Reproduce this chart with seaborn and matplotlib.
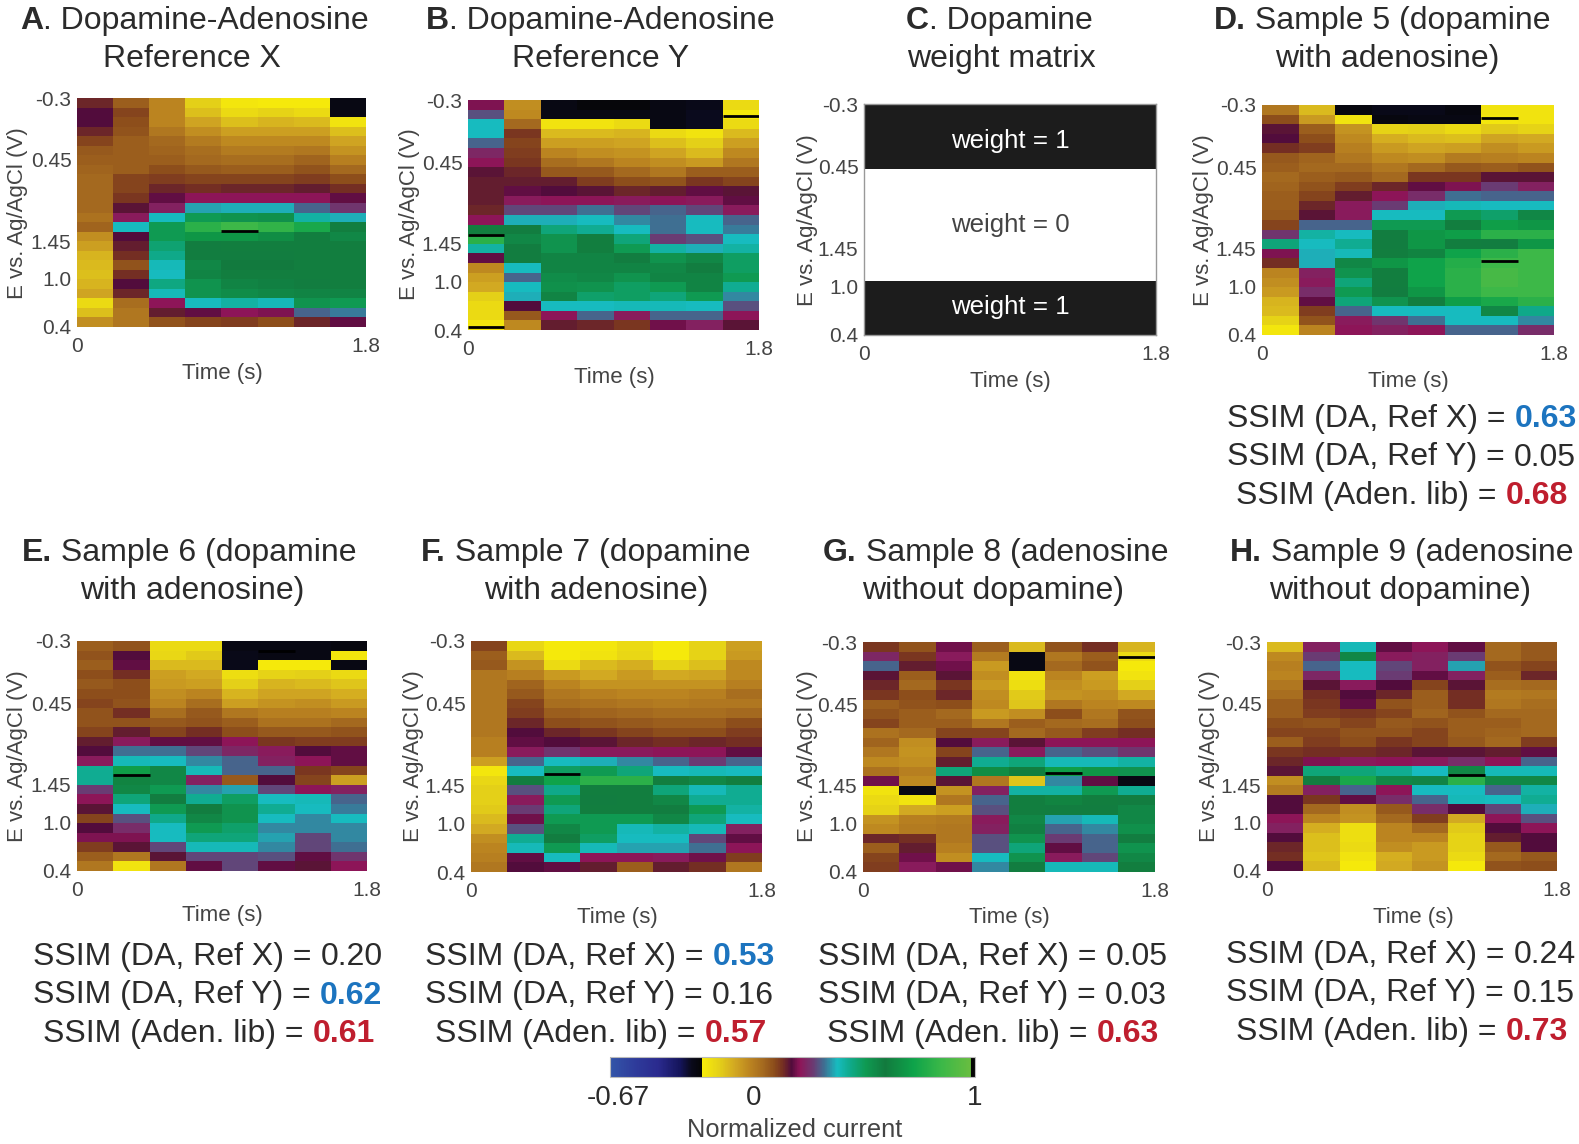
# ==========================================
# VOLTAMMOGRAM HEATMAPS WITH SSIM SCORES
# ==========================================

import numpy as np
import matplotlib
matplotlib.use("Agg")
import matplotlib.pyplot as plt
import seaborn as sns
from matplotlib.colors import LinearSegmentedColormap, ListedColormap
from matplotlib.transforms import ScaledTranslation

sns.set_theme(style="white")
plt.rcParams["font.family"] = ["Liberation Sans", "DejaVu Sans"]

# ------------------------------------------
# Data: one list per time column, 24 potential bins each
# ------------------------------------------
panel_a = [
    [.13,.16,.16,.13,.09,.06, .05,.04,.03,.03,.03,.03, .01,.04,-.05,-.08,-.12,-.13, -.14,-.12,-.09,-.2,-.14,-.05],
    [.05,.09,.08,.07,.05,.05, .05,.05,.09,.09,.11,.15, .21,.37,.16,.14,.12,.07, .12,.16,.13,.02,.0,.0],
    [-.03,-.03,-.03,.0,.03,.04, .05,.08,.1,.13,.17,.22, .37,.5,.5,.46,.43,.38, .37,.44,.38,.2,.14,.07],
    [-.17,-.14,-.09,-.05,-.01,.02, .03,.06,.09,.12,.2,.35, .5,.8,.68,.58,.58,.55, .56,.52,.52,.37,.17,.09],
    [-.23,-.2,-.14,-.08,-.04,-.01, .02,.05,.09,.13,.2,.36, .52,.85,.68,.6,.58,.59, .6,.56,.54,.4,.2,.1],
    [-.24,-.18,-.12,-.08,-.04,-.01, .02,.05,.09,.13,.2,.36, .53,.82,.65,.6,.58,.59, .6,.57,.55,.38,.19,.08],
    [-.24,-.2,-.13,-.08,-.04,.0, .04,.07,.1,.14,.2,.3, .4,.75,.6,.6,.6,.6, .6,.58,.56,.52,.3,.13],
    [-.28,-.28,-.22,-.14,-.09,-.06, -.02,.03,.08,.12,.17,.25, .36,.6,.55,.6,.6,.6, .6,.6,.56,.5,.32,.17],
]
panel_b = [
    [.19,.28,.37,.37,.3,.23, .2,.15,.14,.14,.14,.13, .2,.6,.8,.4,.17,-.04, -.08,-.1,-.17,-.2,-.2,-.23],
    [-.05,-.04,.03,.11,.09,.1, .11,.13,.14,.17,.21,.27, .36,.58,.55,.58,.58,.37, .3,.37,.36,.16,.06,-.04],
    [-.28,-.28,-.22,-.13,-.08,-.03, .02,.06,.14,.16,.2,.27, .36,.45,.52,.52,.56,.56, .54,.53,.56,.37,.2,.14],
    [-.26,-.28,-.22,-.13,-.08,-.05, .0,.06,.1,.15,.2,.31, .37,.42,.6,.6,.56,.56, .55,.52,.47,.37,.3,.13],
    [-.26,-.28,-.2,-.12,-.09,-.06, -.03,.03,.08,.13,.21,.27, .33,.37,.45,.5,.58,.56, .52,.48,.48,.38,.21,.11],
    [-.28,-.28,-.28,-.2,-.14,-.09, -.05,.0,.07,.14,.2,.3, .31,.31,.26,.4,.52,.55, .56,.5,.45,.38,.3,.18],
    [-.29,-.3,-.3,-.22,-.17,-.13, -.07,.05,.11,.17,.21,.27, .37,.37,.28,.36,.55,.58, .56,.56,.5,.37,.3,.22],
    [-.2,-.24,-.2,-.13,-.08,-.04, .0,.05,.09,.15,.17,.21, .3,.32,.37,.4,.48,.48, .5,.42,.33,.28,.2,.15],
]
panel_d = [
    [.0,.08,.15,.16,.12,.06, .05,.03,.04,.05,.05,.06, .09,.25,.45,.19,.12,-.03, -.05,-.07,-.12,-.13,-.18,-.23],
    [-.13,-.07,.05,.08,.1,.04, .03,.05,.07,.09,.13,.15, .3,.4,.37,.36,.36,.22, .21,.24,.17,.1,.07,-.03],
    [-.27,-.22,-.06,-.04,-.02,.0, .03,.06,.1,.14,.21,.21, .3,.37,.42,.38,.55,.52, .45,.5,.45,.3,.21,.2],
    [-.29,-.27,-.18,-.11,-.07,-.04, .0,.03,.13,.2,.26,.37, .5,.58,.58,.6,.68,.6, .6,.58,.52,.37,.25,.22],
    [-.29,-.28,-.17,-.13,-.09,-.05, .03,.11,.17,.24,.36,.37, .5,.68,.68,.62,.72,.72, .72,.68,.6,.37,.31,.2],
    [-.27,-.28,-.2,-.14,-.08,-.01, .06,.11,.19,.31,.38,.5, .6,.7,.6,.72,.78,.8, .8,.8,.7,.37,.37,.3],
    [-.22,-.23,-.16,-.09,-.05,-.02, .05,.15,.26,.3,.37,.47, .7,.8,.58,.8,.85,.88, .88,.85,.75,.55,.37,.3],
    [-.22,-.22,-.18,-.1,-.07,-.03, .07,.15,.22,.3,.37,.55, .68,.8,.68,.85,.85,.85, .85,.85,.8,.43,.33,.24],
]
panel_e = [
    [.05,.07,.05,.08,.06,.08, .09,.07,.07,.09,.14,.16, .21,.42,.42,.26,.2,.15, .09,.16,.19,.1,.05,.0],
    [.07,.16,.17,.12,.08,.08, .07,.12,.07,.14,.21,.31, .38,.7,.62,.55,.45,.37, .28,.24,.19,.15,.0,-.22],
    [-.2,-.19,-.13,-.08,-.07,-.05, -.03,.02,.06,.09,.17,.31, .37,.55,.55,.5,.58,.5, .43,.37,.37,.27,.15,.0],
    [-.2,-.16,-.13,-.1,-.08,-.03, .02,.06,.07,.12,.17,.27, .33,.38,.22,.33,.42,.58, .55,.5,.45,.38,.27,.17],
    [-.28,-.29,-.29,-.21,-.17,-.12, -.08,.0,.05,.08,.2,.23, .3,.3,.06,.35,.48,.52, .52,.47,.45,.38,.27,.27],
    [-.28,-.28,-.24,-.18,-.12,-.09, -.06,-.02,.01,.06,.11,.21, .22,.3,.16,.27,.37,.42, .37,.33,.35,.33,.28,.17],
    [-.28,-.28,-.24,-.17,-.13,-.09, -.05,-.02,.01,.06,.1,.16, .2,.11,.09,.2,.38,.37, .33,.33,.27,.27,.17,.15],
    [-.27,-.23,-.28,-.2,-.15,-.11, -.07,-.03,.03,.07,.1,.17, .17,.09,-.08,.22,.3,.32, .37,.33,.33,.31,.25,.2],
]
panel_f = [
    [.09,.05,.06,.0,.0,.0, .0,.0,.0,.0,-.02,-.02, -.08,-.23,-.19,-.17,-.17,-.16, -.13,-.1,-.05,-.03,-.02,.0],
    [-.19,-.13,-.06,-.02,.04,.06, .09,.1,.13,.16,.17,.21, .3,.37,.58,.28,.21,.26, .18,.28,.42,.38,.17,.16],
    [-.24,-.24,-.2,-.07,-.03,.0, .02,.05,.08,.13,.16,.25, .37,.48,.72,.43,.5,.45, .5,.55,.58,.5,.37,.17],
    [-.23,-.22,-.13,-.1,-.06,-.02, .01,.04,.07,.11,.15,.21, .36,.5,.8,.6,.58,.6, .5,.5,.48,.38,.2,.14],
    [-.2,-.19,-.11,-.07,-.06,-.03, .0,.03,.06,.09,.13,.21, .33,.45,.8,.6,.6,.6, .5,.38,.37,.35,.2,.05],
    [-.24,-.24,-.18,-.1,-.06,-.03, -.01,.02,.05,.08,.12,.2, .3,.37,.6,.45,.55,.58, .55,.4,.37,.35,.21,.14],
    [-.18,-.18,-.14,-.09,-.06,-.02, .0,.02,.05,.08,.13,.2, .26,.38,.55,.38,.42,.5, .45,.38,.27,.31,.18,.12],
    [-.08,-.07,-.04,-.04,-.02,.02, .0,.03,.08,.1,.12,.17, .3,.37,.6,.42,.42,.4, .37,.22,.17,.2,.1,.0],
]
panel_g = [
    [.11,.23,.3,.15,.13,.11, .05,.07,.09,.01,.04,.0, -.04,.01,.18,-.22,-.2,-.18, -.06,-.04,.13,.05,.09,.1],
    [.07,.11,.14,.05,.03,.08, .07,.05,.05,.03,-.05,-.06, -.05,-.02,-.04,-.28,-.22,-.1, -.02,-.01,.12,.14,.18,.21],
    [.18,.21,.18,.15,.11,.13, .08,.03,.05,.09,.16,.09, .14,.45,.15,-.06,.0,-.08, -.01,.0,.0,-.02,-.05,.18],
    [.05,-.01,-.07,-.05,-.07,-.05, -.04,-.07,.0,.09,.21,.3, .42,.65,.0,.22,.3,.28, .21,.22,.28,.28,.37,.33],
    [-.13,-.28,-.28,-.22,-.21,-.16, -.15,-.05,.05,.03,.15,.21, .45,.6,-.15,.4,.6,.6, .55,.57,.52,.45,.52,.58],
    [.07,.0,.03,-.03,-.05,-.06, .0,.08,.03,.06,.2,.3, .38,.7,.33,.4,.62,.58, .35,.3,.26,.17,.21,.38],
    [.12,.05,.07,-.08,-.07,-.05, -.03,.0,.02,.1,.2,.28, .38,.68,.17,.5,.6,.58, .38,.33,.3,.3,.27,.38],
    [-.12,-.2,-.24,-.22,-.17,-.1, -.04,.07,.08,.12,.2,.25, .4,.52,-.28,.42,.58,.55, .55,.53,.58,.52,.55,.6],
]
panel_h = [
    [-.13,-.04,-.02,-.03,.0,.02, .05,.05,.08,.09,.05,.11, .13,.15,-.05,-.01,.16,.16, .2,.22,.16,.13,.12,.16],
    [.22,.26,.3,.23,.15,.12, .11,.1,.07,.09,.1,.12, .19,.45,.58,.22,.11,.03, -.03,-.11,-.14,-.14,-.15,-.13],
    [.38,.55,.37,.37,.21,.16, .17,.11,.09,.07,.08,.12, .21,.45,.75,.3,.17,-.05, -.06,-.21,-.21,-.2,-.22,-.24],
    [.17,.21,.27,.26,.16,.13, .07,.09,.06,.07,.11,.13, .2,.42,.55,.2,.24,.06, .03,-.03,-.03,-.05,-.11,-.1],
    [.2,.22,.22,.17,.09,.05, .05,.04,.07,.09,.09,.15, .21,.37,.56,.37,.3,.24, .1,.03,-.03,-.07,-.07,-.06],
    [.17,.26,.35,.22,.15,.12, .12,.07,.05,.05,.06,.15, .24,.55,.8,.37,.38,.16, -.1,-.16,-.18,-.18,-.2,-.24],
    [.03,.03,.07,.05,.02,-.01, .0,.03,.05,.04,.03,.14, .2,.38,.55,.3,.37,.27, .2,.16,.14,.06,.03,.07],
    [.06,.06,.09,.13,.03,.0, .02,.03,.03,.03,.1,.17, .3,.38,.55,.4,.42,.36, .28,.2,.16,.16,.06,.08],
]
weight_rows = [1] * 17 + [0] * 29 + [1] * 14
weight_labels = ["weight = 1", "weight = 0", "weight = 1"]

# thin off-scale streaks: (column, row position)
streaks_a = [(4, 13.9)]
streaks_b = [(0, 14.1), (0, 23.7), (7, 1.7)]
streaks_d = [(6, 1.4), (6, 16.3)]
streaks_e = [(1, 13.97), (5, 1.0)]
streaks_f = [(2, 13.8)]
streaks_g = [(7, 1.6), (5, 13.7)]
streaks_h = [(5, 13.9)]

titles = {
    "A": ["A", ". Dopamine-Adenosine", "Reference X"],
    "B": ["B", ". Dopamine-Adenosine", "Reference Y"],
    "C": ["C", ". Dopamine", "weight matrix"],
    "D": ["D.", " Sample 5 (dopamine", "with adenosine)"],
    "E": ["E.", " Sample 6 (dopamine", "with adenosine)"],
    "F": ["F.", " Sample 7 (dopamine", "with adenosine)"],
    "G": ["G.", " Sample 8 (adenosine", "without dopamine)"],
    "H": ["H.", " Sample 9 (adenosine", "without dopamine)"],
}
ssim_scores = {
    "D": ["0.63", "0.05", "0.68"],
    "E": ["0.20", "0.62", "0.61"],
    "F": ["0.53", "0.16", "0.57"],
    "G": ["0.05", "0.03", "0.63"],
    "H": ["0.24", "0.15", "0.73"],
}
# which of the two reference scores is highlighted
ssim_highlight = {"D": 0, "E": 1, "F": 0, "G": None, "H": None}
ssim_labels = ["SSIM (DA, Ref X) = ", "SSIM (DA, Ref Y) = ", "SSIM (Aden. lib) = "]

y_tick_labels = ["-0.3", "0.45", "1.45", "1.0", "0.4"]
y_tick_fracs = [0, .27, .625, .79, 1]

# ------------------------------------------
# Colormap
# ------------------------------------------
vmin, vmax = -0.67, 1.0
anchors = [
    (-.67, "#3355a8"), (-.55, "#2e3a9a"), (-.45, "#2a2a8e"), (-.35, "#14145a"),
    (-.3, "#0a0a1c"), (-.2495, "#050505"), (-.249, "#f7ec0a"), (-.17, "#e4d018"),
    (-.1, "#d2a822"), (-.03, "#bb8420"), (.03, "#a4691f"), (.08, "#8c4d1b"),
    (.12, "#752f22"), (.16, "#520c3c"), (.2, "#8e1558"), (.26, "#6b3a72"),
    (.31, "#3f6e92"), (.37, "#17bcc0"), (.43, "#0fa98a"), (.5, "#0f9a52"),
    (.59, "#127a3e"), (.72, "#0ea34a"), (.85, "#3cb848"), (.98, "#68bd40"),
    (.985, "#050505"), (1.0, "#050505"),
]
current_cmap = LinearSegmentedColormap.from_list(
    "current", [((v - vmin) / (vmax - vmin), c) for v, c in anchors], N=512
)

# ------------------------------------------
# Layout in pixels
# ------------------------------------------
W, H = 1579, 1144
fig = plt.figure(figsize=(W / 100, H / 100), dpi=100)
TEXT = "#2b2b2b"
GREY = "#444444"
BIG = 23


def place(left, top, right, bottom):
    return fig.add_axes([left / W, 1 - bottom / H, (right - left) / W, (bottom - top) / H])


def put(x, y, s, **kw):
    kw.setdefault("color", TEXT)
    kw.setdefault("va", "center")
    return fig.text(x / W, 1 - y / H, s, **kw)


# name, box, values, streaks, time label xy, y label xy
panels = [
    ("A", (77, 98, 366, 327), panel_a, streaks_a, (222, 374), (18, 213)),
    ("B", (468, 100, 759, 330), panel_b, streaks_b, (614, 377), (410, 214)),
    ("C", (864, 104, 1156, 335), None, [], (1010, 381), (807, 220)),
    ("D", (1262, 105, 1554, 335), panel_d, streaks_d, (1408, 382), (1204, 220)),
    ("E", (77, 641, 367, 871), panel_e, streaks_e, (222, 916), (18, 756)),
    ("F", (471, 641, 762, 872), panel_f, streaks_f, (617, 918), (414, 756)),
    ("G", (863, 642, 1155, 872), panel_g, streaks_g, (1009, 918), (807, 756)),
    ("H", (1267, 642, 1557, 871), panel_h, streaks_h, (1413, 917), (1210, 756)),
]
title_xy = {
    "A": (20, 21, 192), "B": (426, 21, 601), "C": (906, 21, 1001), "D": (1214, 21, 1387),
    "E": (22, 553, 192), "F": (421, 553, 596), "G": (823, 553, 993), "H": (1230, 553, 1400),
}
ssim_xy = {
    "D": (1227, 419, 1236), "E": (33, 957, 43), "F": (425, 957, 435),
    "G": (818, 957, 827), "H": (1226, 955, 1236),
}
weight_xy = [(1010, 141), (1010, 225), (1010, 307)]
LINE = 38.5
BLUE, RED = "#1c74bf", "#bf1e2e"

# ------------------------------------------
# Heatmaps
# ------------------------------------------
for name, box, values, streaks, time_xy, ylab_xy in panels:
    ax = place(*box)
    if values is None:
        weights = np.array(weight_rows).reshape(-1, 1)
        sns.heatmap(weights, ax=ax, cbar=False, vmin=0, vmax=1,
                    cmap=ListedColormap(["white", "#1c1c1c"]),
                    xticklabels=False, yticklabels=False)
        n_rows, n_cols = weights.shape
        for spine in ax.spines.values():
            spine.set_visible(True)
            spine.set_color("#999999")
            spine.set_linewidth(1)
        for (wx, wy), label in zip(weight_xy, weight_labels):
            put(wx, wy, label, fontsize=18.6, ha="center",
                color="white" if label.endswith("1") else GREY)
    else:
        matrix = np.array(values).T
        sns.heatmap(matrix, ax=ax, cbar=False, vmin=vmin, vmax=vmax, cmap=current_cmap,
                    xticklabels=False, yticklabels=False)
        n_rows, n_cols = matrix.shape
        for col, row in streaks:
            ax.hlines(row, col, col + 1, color="black", lw=2)

    ax.set_xticks([0, n_cols])
    ax.set_xticklabels(["0", "1.8"])
    ax.set_yticks([f * n_rows for f in y_tick_fracs])
    ax.set_yticklabels(y_tick_labels, rotation=0)
    ax.tick_params(axis="x", length=0, pad=7, labelsize=15, labelcolor=GREY, rotation=0)
    ax.tick_params(axis="y", length=0, pad=4, labelsize=15, labelcolor=GREY)

    put(time_xy[0], time_xy[1], "Time (s)", fontsize=16, color=GREY, ha="center")
    put(ylab_xy[0], ylab_xy[1], "E vs. Ag/AgCl (V)", fontsize=16, color=GREY,
        ha="center", rotation=90)

    # title: bold letter followed by plain text, second line centred
    tx, ty, center = title_xy[name]
    bold, first, second = titles[name]
    head = put(tx, ty, bold, fontsize=BIG, fontweight="bold")
    ax.annotate(first, xy=(1, 0), xycoords=head, va="bottom", ha="left",
                fontsize=BIG, color=TEXT, annotation_clip=False)
    put(center, ty + 38, second, fontsize=BIG, ha="center")

# ------------------------------------------
# SSIM scores under the panels
# ------------------------------------------
for name, scores in ssim_scores.items():
    x, y, x_lib = ssim_xy[name]
    for i, (label, score) in enumerate(zip(ssim_labels, scores)):
        left = x_lib if i == 2 else x
        piece = put(left, y + i * LINE, label, fontsize=BIG)
        color, weight = TEXT, "normal"
        if i == 2:
            color, weight = RED, "bold"
        elif ssim_highlight[name] == i:
            color, weight = BLUE, "bold"
        fig.axes[0].annotate(score, xy=(1, 0), xycoords=piece, va="bottom", ha="left",
                             fontsize=BIG, color=color, fontweight=weight,
                             annotation_clip=False)

# ------------------------------------------
# Colorbar
# ------------------------------------------
cax = place(610, 1057, 975, 1077)
sm = plt.cm.ScalarMappable(cmap=current_cmap, norm=plt.Normalize(vmin, vmax))
cbar = fig.colorbar(sm, cax=cax, orientation="horizontal")
cbar.set_ticks([-0.67, 0, 1])
cbar.set_ticklabels(["-0.67", "0", "1"])
cbar.ax.tick_params(length=0, pad=6, labelsize=20, labelcolor=TEXT)
cbar.outline.set_edgecolor("#bbbbbb")
cbar.outline.set_linewidth(0.8)
for lab, shift in zip(cbar.ax.get_xticklabels(), [6, -2, 0]):
    lab.set_transform(lab.get_transform() + ScaledTranslation(shift / 72, 0, fig.dpi_scale_trans))
put(795, 1130, "Normalized current", fontsize=18.3, color=GREY, ha="center")

plt.savefig("out.png", dpi=100)
